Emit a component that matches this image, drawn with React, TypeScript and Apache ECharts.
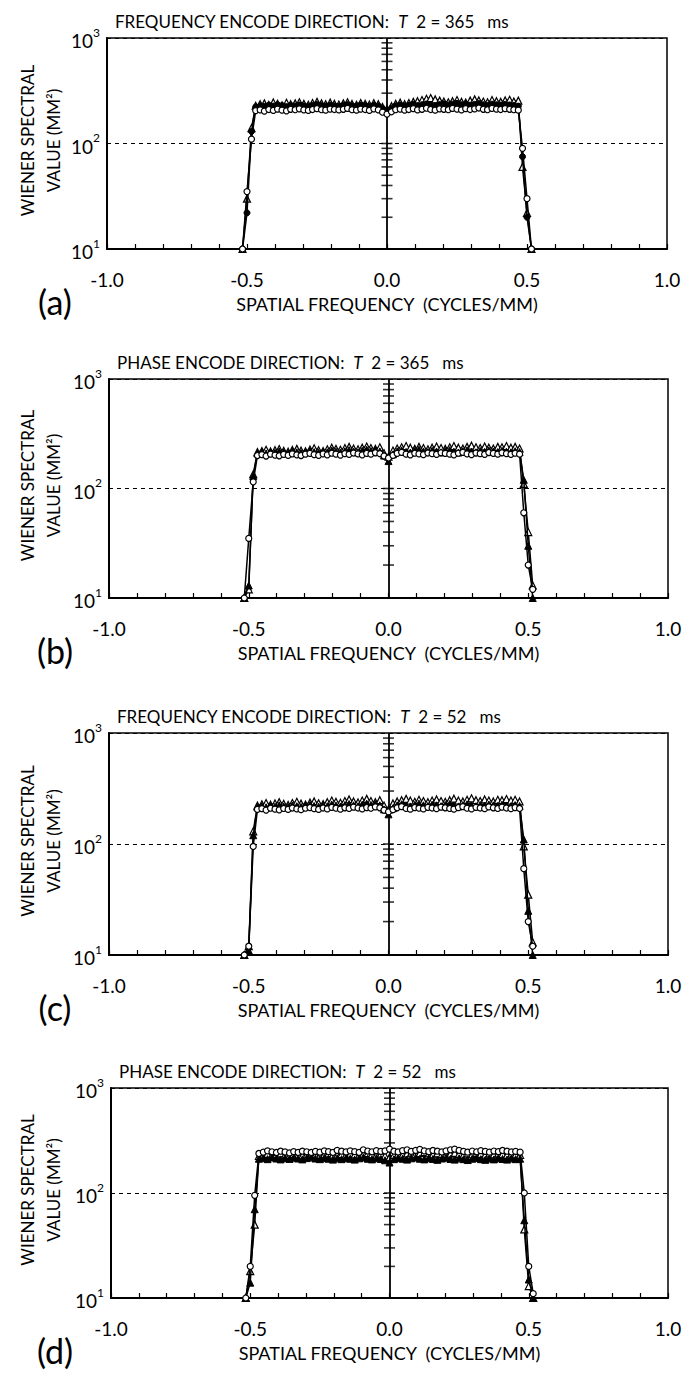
import React, { useEffect, useRef } from "react";
import * as echarts from "echarts";

// Spatial frequency grid (cycles/mm), shared by all panels
const FREQ = [
  -0.516, -0.5, -0.484, -0.469, -0.453, -0.438, -0.422, -0.406, -0.391, -0.375,
  -0.359, -0.344, -0.328, -0.313, -0.297, -0.281, -0.266, -0.25, -0.234, -0.219,
  -0.203, -0.188, -0.172, -0.156, -0.141, -0.125, -0.109, -0.094, -0.078, -0.063,
  -0.047, -0.031, -0.016, 0, 0.016, 0.031, 0.047, 0.063, 0.078, 0.094,
  0.109, 0.125, 0.141, 0.156, 0.172, 0.188, 0.203, 0.219, 0.234, 0.25,
  0.266, 0.281, 0.297, 0.313, 0.328, 0.344, 0.359, 0.375, 0.391, 0.406,
  0.422, 0.438, 0.453, 0.469, 0.484, 0.5, 0.516,
];

// Panel (a): frequency encode, T2 = 365 ms
const A_OPEN_CIRCLE = [10, 35, 110,
  205, 208, 203, 210, 206, 212, 207, 204, 211, 209,
  213, 208, 206, 210, 214, 209, 207, 212, 210, 208,
  211, 215, 209, 207, 212, 210, 206, 213, 208, 198,
  190, 200, 209, 212, 207, 210, 214, 208, 211, 216,
  210, 207, 213, 211, 209, 215, 212, 208, 214, 210,
  213, 217, 211, 209, 215, 212, 210, 214, 211, 209,
  207, 90, 30, 10];
const A_FILLED = [10, 22, 130,
  222, 228, 225, 231, 226, 233, 229, 224, 230, 227,
  232, 228, 225, 230, 234, 229, 226, 231, 228, 225,
  230, 234, 228, 226, 232, 229, 225, 231, 227, 215,
  205, 216, 228, 232, 227, 231, 235, 229, 233, 237,
  231, 228, 234, 238, 232, 236, 240, 233, 237, 231,
  235, 239, 233, 230, 236, 233, 231, 235, 232, 230,
  226, 75, 20, 10];
const A_OPEN_TRIANGLE = [10, 30, 140,
  228, 236, 240, 232, 245, 238, 230, 243, 236, 240,
  246, 238, 233, 242, 248, 240, 236, 244, 238, 234,
  240, 246, 237, 233, 242, 238, 234, 241, 236, 222,
  212, 226, 238, 244, 236, 242, 248, 252, 258, 265,
  270, 262, 255, 250, 246, 252, 258, 248, 244, 255,
  262, 256, 250, 246, 258, 252, 248, 256, 260, 250,
  255, 60, 22, 10];

// Panel (b): phase encode, T2 = 365 ms
const B_OPEN_CIRCLE = [10, 35, 115,
  200, 204, 198, 206, 202, 199, 205, 201, 207, 203,
  200, 206, 209, 204, 201, 207, 203, 210, 206, 202,
  208, 205, 211, 207, 203, 209, 206, 212, 208, 198,
  190, 201, 209, 214, 206, 203, 210, 207, 204, 211,
  208, 205, 212, 209, 206, 203, 210, 214, 207, 204,
  211, 208, 205, 213, 209, 206, 212, 208, 205, 210,
  206, 60, 20, 12];
const B_FILLED = [10, 13, 130,
  210, 214, 209, 216, 212, 218, 213, 210, 217, 214,
  211, 216, 220, 215, 212, 218, 214, 222, 217, 213,
  219, 224, 218, 214, 221, 226, 220, 224, 218, 200,
  178, 205, 218, 223, 216, 213, 220, 226, 218, 215,
  221, 218, 214, 220, 224, 217, 213, 219, 223, 217,
  214, 220, 216, 222, 218, 215, 221, 217, 214, 219,
  215, 120, 30, 10];
const B_OPEN_TRIANGLE = [10, 12, 135,
  215, 220, 226, 218, 224, 229, 221, 217, 225, 230,
  222, 219, 227, 233, 224, 220, 228, 236, 230, 226,
  234, 240, 232, 228, 236, 242, 234, 230, 238, 210,
  195, 222, 232, 238, 244, 236, 230, 240, 234, 228,
  236, 242, 234, 230, 238, 244, 236, 232, 240, 246,
  238, 234, 242, 236, 232, 240, 238, 244, 236, 240,
  232, 110, 40, 13];

// Panel (c): frequency encode, T2 = 52 ms
const C_OPEN_CIRCLE = [10, 12, 95,
  205, 208, 202, 210, 206, 203, 209, 205, 211, 207,
  204, 210, 213, 208, 205, 211, 207, 214, 210, 206,
  212, 209, 215, 211, 207, 213, 210, 216, 212, 202,
  195, 204, 212, 217, 209, 206, 213, 210, 207, 214,
  211, 208, 215, 212, 209, 206, 213, 217, 210, 207,
  214, 211, 208, 216, 212, 209, 215, 211, 208, 213,
  209, 60, 20, 12];
const C_FILLED = [10, 11, 120,
  215, 219, 214, 221, 217, 223, 218, 215, 222, 219,
  216, 221, 225, 220, 217, 223, 219, 227, 222, 218,
  224, 229, 223, 219, 226, 231, 225, 229, 223, 205,
  185, 210, 223, 228, 221, 218, 225, 231, 223, 220,
  226, 223, 219, 225, 229, 222, 218, 224, 228, 222,
  219, 225, 221, 227, 223, 220, 226, 222, 219, 224,
  220, 110, 25, 10];
const C_OPEN_TRIANGLE = [10, 12, 130,
  222, 228, 234, 226, 232, 238, 230, 225, 234, 240,
  231, 227, 236, 242, 233, 229, 238, 246, 240, 235,
  244, 252, 242, 237, 246, 255, 244, 238, 248, 222,
  205, 232, 242, 248, 255, 246, 240, 250, 244, 238,
  246, 252, 244, 240, 248, 256, 246, 242, 250, 258,
  248, 244, 252, 246, 242, 250, 248, 254, 246, 250,
  242, 95, 35, 13];

// Panel (d): phase encode, T2 = 52 ms
const D_OPEN_CIRCLE = [10, 20, 95,
  238, 245, 252, 247, 243, 250, 246, 241, 248, 244,
  250, 247, 243, 249, 245, 252, 248, 244, 255, 250,
  246, 252, 248, 244, 258, 251, 247, 253, 249, 252,
  262, 250, 246, 253, 258, 249, 255, 260, 252, 248,
  254, 250, 246, 252, 258, 262, 255, 249, 245, 251,
  247, 253, 249, 245, 251, 248, 254, 250, 246, 249,
  245, 100, 20, 11];
const D_FILLED = [10, 14, 70,
  212, 216, 210, 218, 213, 209, 215, 211, 217, 213,
  209, 215, 219, 213, 210, 216, 212, 208, 214, 210,
  216, 212, 208, 214, 218, 212, 209, 215, 211, 205,
  195, 210, 216, 212, 208, 214, 218, 212, 209, 215,
  211, 207, 213, 217, 211, 208, 214, 210, 206, 212,
  216, 210, 207, 213, 209, 215, 211, 208, 214, 210,
  212, 55, 15, 10];
const D_OPEN_TRIANGLE = [10, 18, 50,
  225, 230, 236, 229, 233, 239, 232, 228, 235, 231,
  226, 233, 237, 230, 227, 234, 238, 232, 229, 235,
  231, 237, 233, 229, 236, 240, 234, 230, 237, 226,
  218, 230, 236, 232, 238, 242, 235, 240, 245, 238,
  233, 239, 235, 231, 237, 241, 236, 232, 238, 234,
  240, 236, 232, 238, 234, 239, 235, 231, 237, 233,
  230, 45, 13, 10];

// Minor tick positions drawn as crosses on the central axis
const CENTER_TICKS = [20, 30, 40, 50, 60, 70, 80, 90, 100, 200, 300, 400, 500, 600, 700, 800, 900];

const TITLES = ["FREQUENCY ENCODE DIRECTION:", "PHASE ENCODE DIRECTION:", "FREQUENCY ENCODE DIRECTION:", "PHASE ENCODE DIRECTION:"];
const T2_MS = ["365", "365", "52", "52"];
const LETTERS = ["(a)", "(b)", "(c)", "(d)"];
const X_TITLE = "SPATIAL FREQUENCY  (CYCLES/MM)";
const Y_TITLE_1 = "WIENER SPECTRAL";
const Y_TITLE_2 = "VALUE (MM²)";

const FONT = "Lato, 'Open Sans', sans-serif";

const LAYOUT = [
  { top: 38, bottom: 249, left: 107, right: 667 },
  { top: 379, bottom: 598, left: 109, right: 668 },
  { top: 733, bottom: 955, left: 109, right: 668 },
  { top: 1088, bottom: 1298, left: 111, right: 668 },
];

const PANEL_DATA = [
  { circ: A_OPEN_CIRCLE, fill: A_FILLED, tri: A_OPEN_TRIANGLE, fillSymbol: "circle" },
  { circ: B_OPEN_CIRCLE, fill: B_FILLED, tri: B_OPEN_TRIANGLE, fillSymbol: "triangle" },
  { circ: C_OPEN_CIRCLE, fill: C_FILLED, tri: C_OPEN_TRIANGLE, fillSymbol: "triangle" },
  { circ: D_OPEN_CIRCLE, fill: D_FILLED, tri: D_OPEN_TRIANGLE, fillSymbol: "triangle" },
];

function buildOption() {
  const grid: any[] = [];
  const xAxis: any[] = [];
  const yAxis: any[] = [];
  const series: any[] = [];
  const graphic: any[] = [];

  LAYOUT.forEach((L, i) => {
    grid.push({
      left: L.left,
      top: L.top,
      width: L.right - L.left,
      height: L.bottom - L.top,
      show: true,
      borderColor: "#000",
      borderWidth: 1.5,
      backgroundColor: "transparent",
    });
    xAxis.push({
      type: "value",
      gridIndex: i,
      min: -1,
      max: 1,
      interval: 0.1,
      axisLine: { show: true, onZero: false, lineStyle: { color: "#000", width: 2 } },
      axisTick: { show: true, inside: true, length: 5, lineStyle: { color: "#000", width: 1.2 } },
      splitLine: { show: false },
      axisLabel: {
        show: true,
        margin: 21,
        fontFamily: FONT,
        fontSize: 19,
        color: "#000",
        formatter: (v: number) => {
          if (Math.abs(v * 2 - Math.round(v * 2)) > 1e-6) return "";
          if (Math.abs(v) < 1e-9) return "0.0";
          return v.toFixed(1);
        },
      },
    });
    yAxis.push({
      type: "log",
      gridIndex: i,
      min: 10,
      max: 1000,
      logBase: 10,
      axisLine: { show: true, onZero: false, lineStyle: { color: "#000", width: 2 } },
      axisTick: { show: false },
      splitLine: { show: true, lineStyle: { color: "#000", width: 1, type: [4, 4] } },
      axisLabel: {
        show: true,
        margin: 7,
        color: "#000",
        formatter: (v: number) => `{b|10}{s|${Math.round(Math.log10(v))}}`,
        rich: {
          b: { fontFamily: FONT, fontSize: 19, color: "#000", lineHeight: 24, verticalAlign: "bottom" },
          s: { fontFamily: FONT, fontSize: 12, color: "#000", lineHeight: 24, verticalAlign: "top" },
        },
      },
    });

    const P = PANEL_DATA[i];
    const mk = (vals: number[]) => FREQ.map((x, k) => [x, vals[k]]);
    const lineBase = {
      type: "line",
      xAxisIndex: i,
      yAxisIndex: i,
      lineStyle: { color: "#000", width: 1.5 },
      showSymbol: true,
      clip: true,
    };
    series.push({
      ...lineBase,
      name: `tri${i}`,
      data: mk(P.tri),
      symbol: "triangle",
      symbolSize: 7,
      itemStyle: { color: "#fff", borderColor: "#000", borderWidth: 1.2 },
      z: 3,
    });
    series.push({
      ...lineBase,
      name: `fill${i}`,
      data: mk(P.fill),
      symbol: P.fillSymbol,
      symbolSize: P.fillSymbol === "triangle" ? 7 : 6,
      itemStyle: { color: "#000", borderColor: "#000", borderWidth: 1 },
      z: 4,
    });
    series.push({
      ...lineBase,
      name: `circ${i}`,
      data: mk(P.circ),
      symbol: "circle",
      symbolSize: 6,
      itemStyle: { color: "#fff", borderColor: "#000", borderWidth: 1.2 },
      z: 5,
    });
    series.push({
      type: "scatter",
      xAxisIndex: i,
      yAxisIndex: i,
      data: CENTER_TICKS.map((v) => [0, v]),
      symbol: "rect",
      symbolSize: [11, 1.6],
      itemStyle: { color: "#000" },
      silent: true,
      z: 2,
      markLine: {
        silent: true,
        symbol: ["none", "none"],
        label: { show: false },
        lineStyle: { color: "#000", type: "solid", width: 1.8 },
        data: [{ xAxis: 0 }],
      },
    });

    const midY = (L.top + L.bottom) / 2;
    graphic.push({
      type: "text",
      x: L.left + 8,
      y: L.top - 17,
      style: {
        text: `${TITLES[i]}  {i|T}  2 = ${T2_MS[i]}   ms`,
        fontFamily: FONT,
        fontSize: 17,
        fill: "#000",
        verticalAlign: "middle",
        align: "left",
        rich: { i: { fontFamily: FONT, fontSize: 17, fontStyle: "italic", fill: "#000" } },
      },
    });
    graphic.push({
      type: "text",
      x: 27,
      y: midY - 3,
      rotation: Math.PI / 2,
      style: { text: Y_TITLE_1, fontFamily: FONT, fontSize: 17, fill: "#000", align: "center", verticalAlign: "middle" },
    });
    graphic.push({
      type: "text",
      x: 53,
      y: midY - 3,
      rotation: Math.PI / 2,
      style: { text: Y_TITLE_2, fontFamily: FONT, fontSize: 17, fill: "#000", align: "center", verticalAlign: "middle" },
    });
    graphic.push({
      type: "text",
      x: (L.left + L.right) / 2,
      y: L.bottom + 55,
      style: { text: X_TITLE, fontFamily: FONT, fontSize: 18, fill: "#000", align: "center", verticalAlign: "middle" },
    });
    graphic.push({
      type: "text",
      x: 55,
      y: L.bottom + 52,
      style: { text: LETTERS[i], fontFamily: FONT, fontSize: 34, fill: "#000", align: "center", verticalAlign: "middle" },
    });
  });

  return {
    animation: false,
    backgroundColor: "#fff",
    grid,
    xAxis,
    yAxis,
    series,
    graphic,
  };
}

export default function App() {
  const ref = useRef<HTMLDivElement | null>(null);
  useEffect(() => {
    document.body.style.margin = "0";
    if (!ref.current) return;
    const chart = echarts.init(ref.current, undefined, { renderer: "svg" });
    chart.setOption(buildOption() as any);
    return () => chart.dispose();
  }, []);
  return <div ref={ref} style={{ width: 686, height: 1377 }} />;
}
